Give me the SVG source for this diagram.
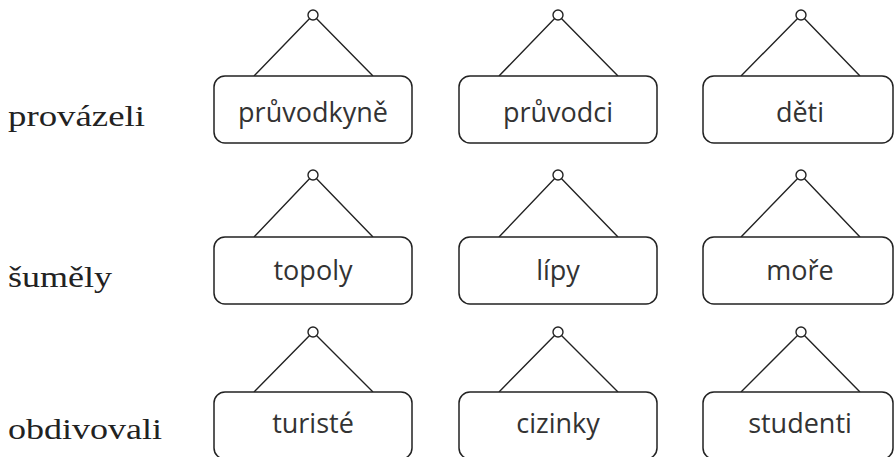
<svg xmlns="http://www.w3.org/2000/svg" width="895" height="457" viewBox="0 0 895 457">
<style>
.box{fill:#fff;stroke:#222;stroke-width:1.5}
.str{fill:none;stroke:#222;stroke-width:1.4}
.ring{fill:#fff;stroke:#222;stroke-width:1.4}
.lbl{font-family:"Open Sans","DejaVu Sans",sans-serif;font-size:27px;fill:#333;text-anchor:middle}
.verb{font-family:"Liberation Serif","DejaVu Serif",serif;font-size:30px;fill:#222}
</style>
<g id="verbs">
<text class="verb" x="8" y="126" textLength="137" lengthAdjust="spacingAndGlyphs">provázeli</text>
<text class="verb" x="8" y="287" textLength="104" lengthAdjust="spacingAndGlyphs">šuměly</text>
<text class="verb" x="8" y="439" textLength="154" lengthAdjust="spacingAndGlyphs">obdivovali</text>
</g>
<g id="connectors">
<path class="str" d="M254 76 L313 15 L373 76"/>
<path class="str" d="M499 76 L558 15 L618 76"/>
<path class="str" d="M741 76 L801 15 L860 76"/>
<path class="str" d="M254 237 L313 175 L373 237"/>
<path class="str" d="M499 237 L558 175 L618 237"/>
<path class="str" d="M741 237 L801 175 L860 237"/>
<path class="str" d="M254 392 L313 332 L373 392"/>
<path class="str" d="M499 392 L558 332 L618 392"/>
<path class="str" d="M741 392 L801 332 L860 392"/>
</g>
<g id="n1"><circle class="ring" cx="313" cy="15" r="5"/><rect class="box" x="214" y="76" width="198" height="67" rx="11"/><text class="lbl" x="313" y="122">průvodkyně</text></g>
<g id="n2"><circle class="ring" cx="558" cy="15" r="5"/><rect class="box" x="459" y="76" width="198" height="67" rx="11"/><text class="lbl" x="558" y="122">průvodci</text></g>
<g id="n3"><circle class="ring" cx="801" cy="15" r="5"/><rect class="box" x="703" y="76" width="190" height="67" rx="11"/><text class="lbl" x="800" y="122">děti</text></g>
<g id="n4"><circle class="ring" cx="313" cy="175" r="5"/><rect class="box" x="214" y="237" width="198" height="67" rx="11"/><text class="lbl" x="313" y="280">topoly</text></g>
<g id="n5"><circle class="ring" cx="558" cy="175" r="5"/><rect class="box" x="459" y="237" width="198" height="67" rx="11"/><text class="lbl" x="558" y="280">lípy</text></g>
<g id="n6"><circle class="ring" cx="801" cy="175" r="5"/><rect class="box" x="703" y="237" width="190" height="67" rx="11"/><text class="lbl" x="800" y="280">moře</text></g>
<g id="n7"><circle class="ring" cx="313" cy="332" r="5"/><rect class="box" x="214" y="392" width="198" height="67" rx="11"/><text class="lbl" x="313" y="433">turisté</text></g>
<g id="n8"><circle class="ring" cx="558" cy="332" r="5"/><rect class="box" x="459" y="392" width="198" height="67" rx="11"/><text class="lbl" x="558" y="433">cizinky</text></g>
<g id="n9"><circle class="ring" cx="801" cy="332" r="5"/><rect class="box" x="703" y="392" width="190" height="67" rx="11"/><text class="lbl" x="800" y="433">studenti</text></g>
</svg>
